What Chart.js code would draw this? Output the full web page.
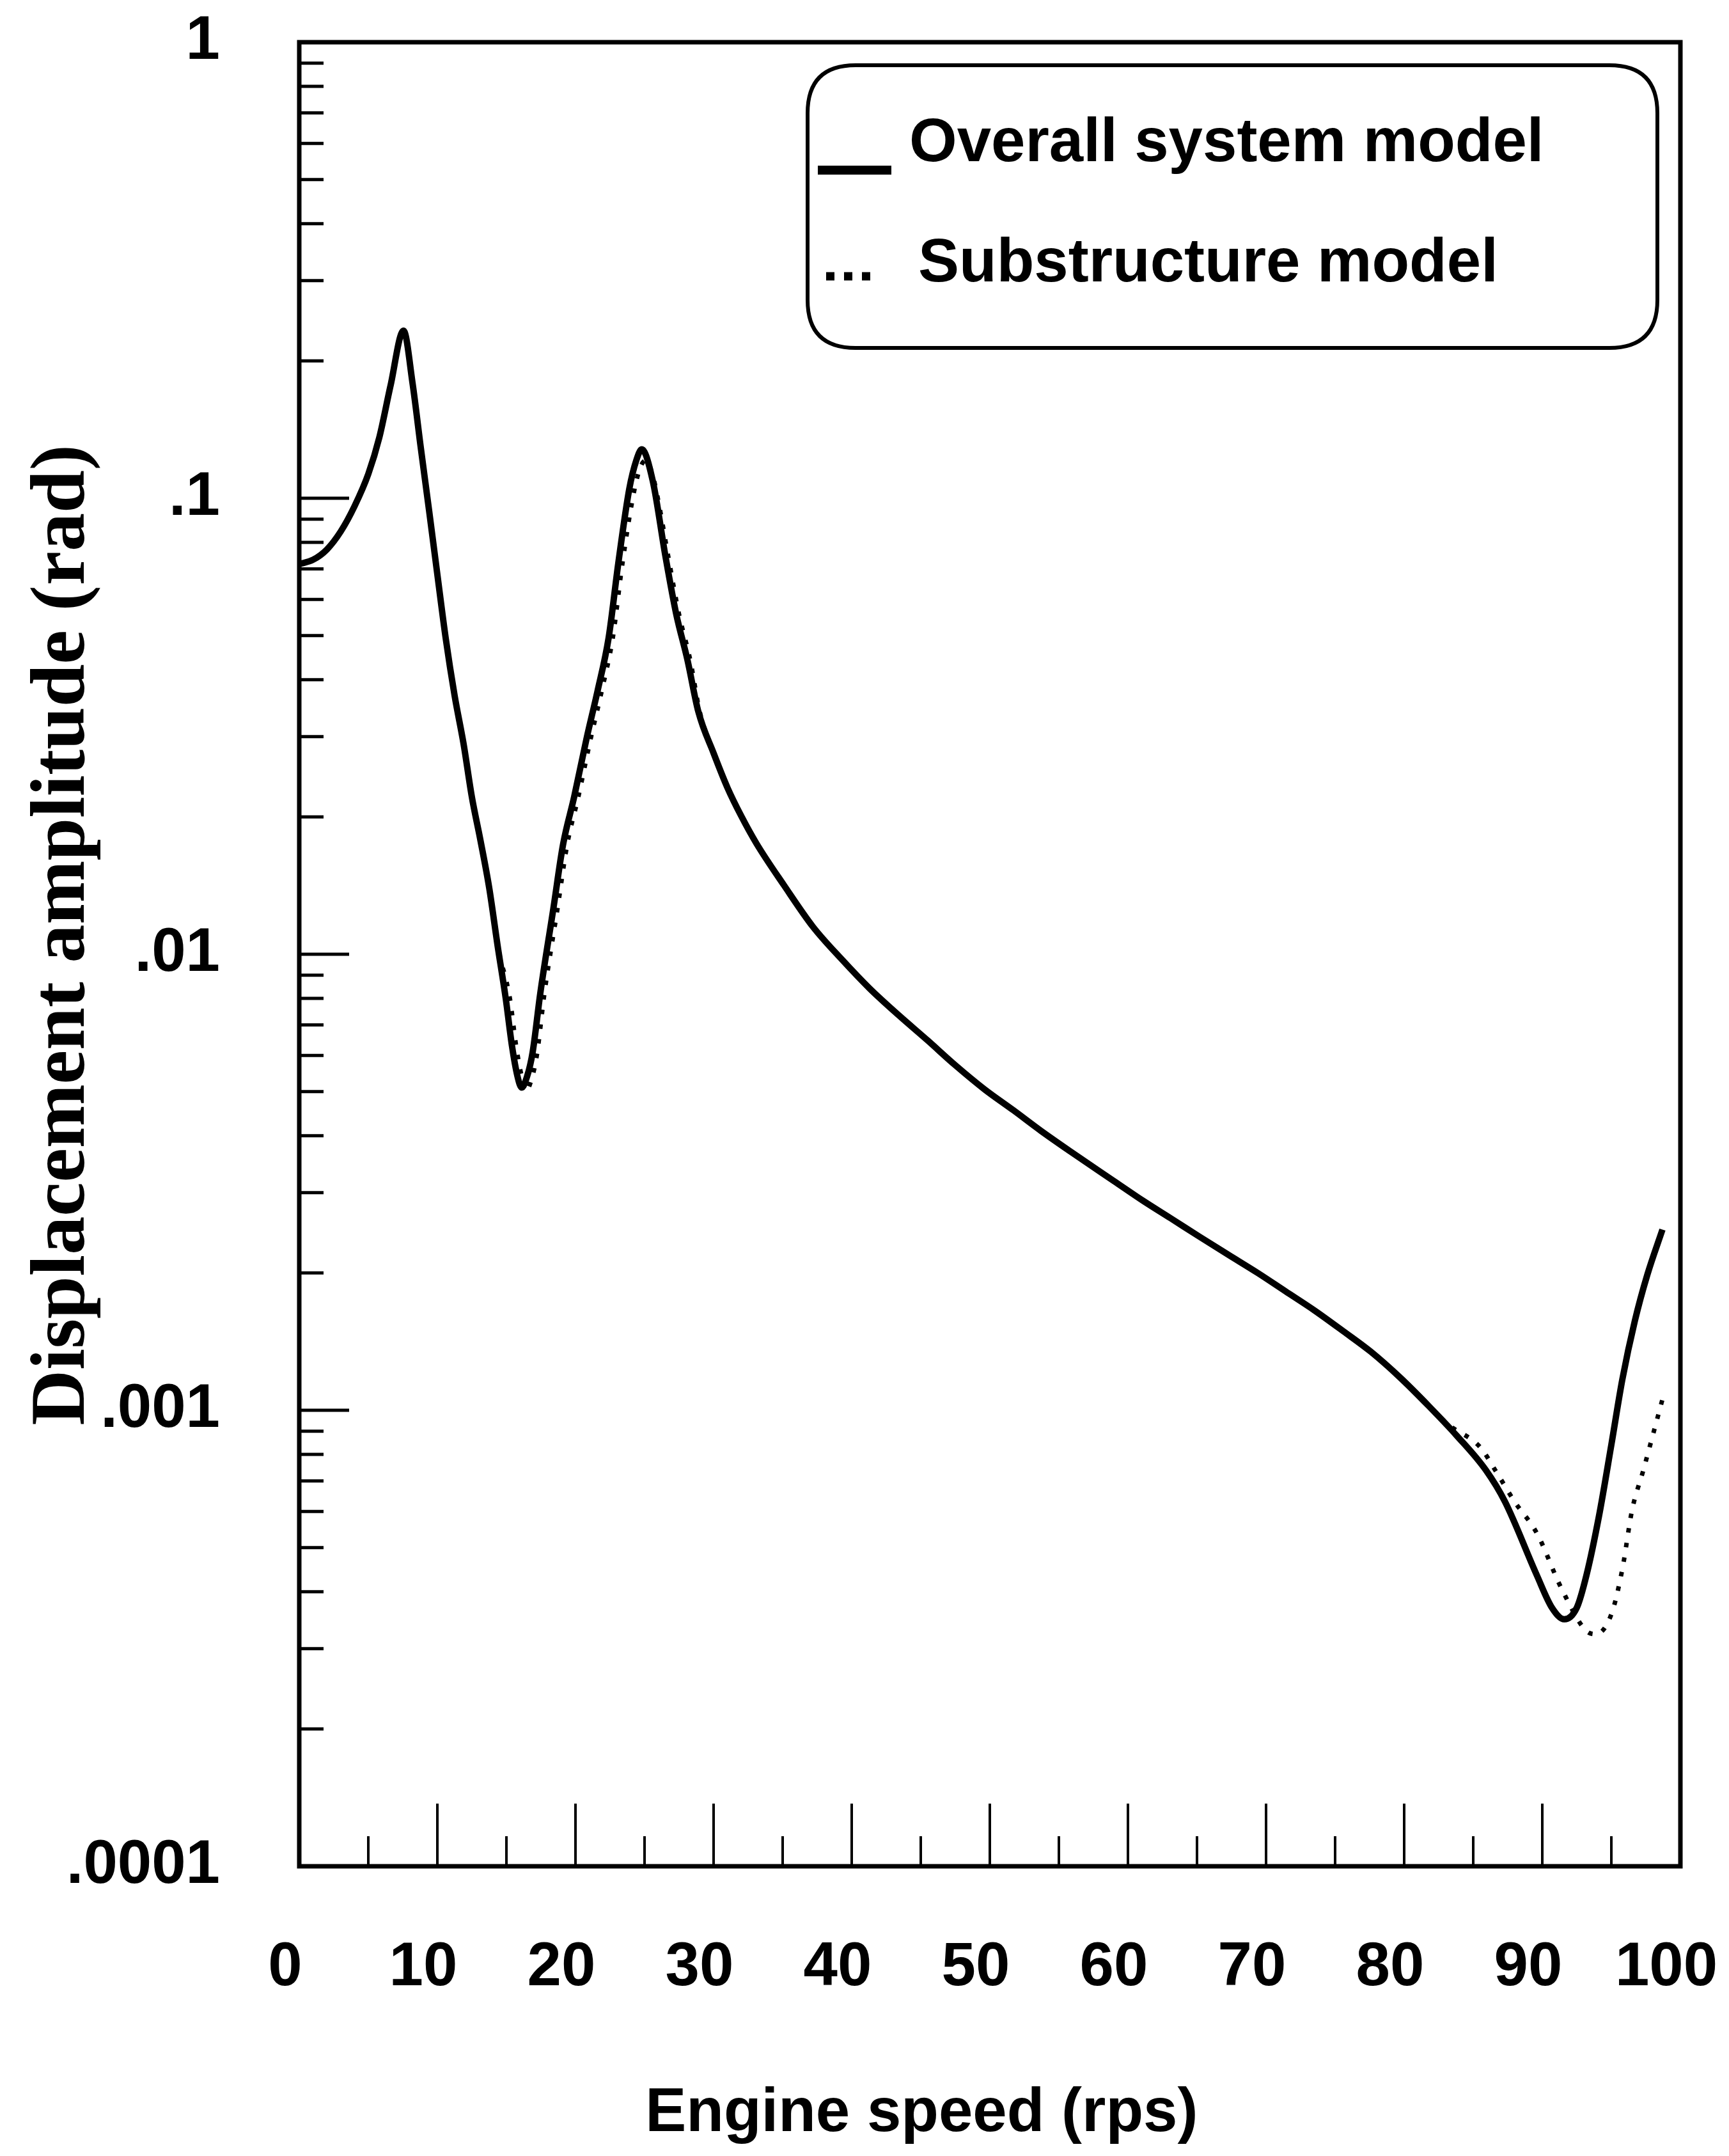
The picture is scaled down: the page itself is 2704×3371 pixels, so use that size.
<!DOCTYPE html>
<html lang="en">
<head>
<meta charset="UTF-8">
<title>Displacement amplitude vs engine speed</title>
<script src="https://cdn.jsdelivr.net/npm/chart.js"></script>
<style>
  html, body { margin: 0; padding: 0; background: #fff; }
  canvas { display: block; }
</style>
</head>
<body>
<canvas id="chart" width="2704" height="3371"></canvas>
<script>
// values (engine speed in rps, amplitude in rad)
const overallSpeed = [0, 1, 2, 3, 4, 5, 5.8, 6.6, 7.55, 8.2, 8.8, 9.4, 10.0, 10.6, 11.25, 11.9, 12.5, 13.1, 13.75, 14.35, 14.95, 15.4, 15.8, 16.1, 16.5, 16.9, 17.45, 18.4, 19.1, 19.9, 20.8, 21.6, 22.4, 23.1, 23.9, 24.4, 24.8, 25.6, 26.5, 27.3, 28.1, 28.9, 30.0, 31.0, 32.0, 33.1, 35.1, 37.2, 39.3, 41.3, 43.4, 45.5, 47.5, 49.6, 51.7, 53.7, 55.8, 59.0, 61.1, 63.1, 65.2, 67.3, 69.4, 71.4, 73.5, 75.6, 77.6, 79.7, 81.8, 83.8, 85.9, 87.3, 89.6, 90.7, 91.6, 92.5, 93.2, 94.1, 95.0, 95.8, 96.7, 97.6, 98.7];
const overallAmp = [0.0717, 0.0733, 0.0772, 0.0845, 0.096, 0.113, 0.136, 0.176, 0.233, 0.179, 0.129, 0.094, 0.068, 0.0494, 0.0369, 0.0289, 0.0221, 0.0179, 0.0140, 0.0105, 0.0080, 0.0063, 0.0054, 0.0051, 0.0054, 0.0061, 0.0082, 0.0126, 0.0174, 0.0221, 0.0297, 0.0378, 0.0494, 0.072, 0.105, 0.121, 0.128, 0.109, 0.075, 0.0556, 0.0443, 0.034, 0.0276, 0.0232, 0.0201, 0.0175, 0.01416, 0.01148, 0.00973, 0.00841, 0.00735, 0.00647, 0.00571, 0.00506, 0.00455, 0.0041, 0.0037, 0.00318, 0.00288, 0.002636, 0.0024, 0.00219, 0.002, 0.001824, 0.001656, 0.00149, 0.001343, 0.00118, 0.00102, 0.00088, 0.00074, 0.00063, 0.000435, 0.000369, 0.000348, 0.000369, 0.000435, 0.000585, 0.00084, 0.00117, 0.00157, 0.00198, 0.00249];

const subSpeed = [0, 1, 2, 3, 4, 5, 5.8, 6.6, 7.55, 8.2, 8.8, 9.4, 10.0, 10.6, 11.25, 11.9, 12.5, 13.1, 13.75, 14.35, 15.25, 15.7, 16.1, 16.4, 16.8, 17.2, 17.75, 18.7, 19.4, 20.2, 21.1, 21.9, 22.7, 23.4, 24.2, 24.7, 25.1, 25.6, 26.1, 26.7, 27.5, 28.3, 29.0, 30.0, 31.0, 32.0, 33.1, 35.1, 37.2, 39.3, 41.3, 43.4, 45.5, 47.5, 49.6, 51.7, 53.7, 55.8, 59.0, 61.1, 63.1, 65.2, 67.3, 69.4, 71.4, 73.5, 75.6, 77.6, 79.7, 81.8, 83.2, 85.5, 86.7, 88.0, 89.6, 91.4, 93.2, 93.9, 95.0, 95.8, 96.5, 97.3, 98.0, 98.7];
const subAmp = [0.0717, 0.0733, 0.0772, 0.0845, 0.096, 0.113, 0.136, 0.176, 0.233, 0.179, 0.129, 0.094, 0.068, 0.0494, 0.0369, 0.0289, 0.0221, 0.0179, 0.0140, 0.0105, 0.0080, 0.0063, 0.0054, 0.0050, 0.0053, 0.0060, 0.0082, 0.0126, 0.0174, 0.0221, 0.0297, 0.0378, 0.0494, 0.072, 0.102, 0.117, 0.121, 0.112, 0.095, 0.075, 0.0556, 0.0443, 0.034, 0.0276, 0.0232, 0.0201, 0.0175, 0.01416, 0.01148, 0.00973, 0.00841, 0.00735, 0.00647, 0.00571, 0.00506, 0.00455, 0.0041, 0.0037, 0.00318, 0.00288, 0.002636, 0.0024, 0.00219, 0.002, 0.001824, 0.001656, 0.00149, 0.001343, 0.00118, 0.00102, 0.00093, 0.00083, 0.00073, 0.00063, 0.000538, 0.000406, 0.000328, 0.000323, 0.000357, 0.000449, 0.000604, 0.000736, 0.000881, 0.001057];

const seriesLabels = ['Overall system model', 'Substructure model'];

const yTickValues = [0.0001, 0.001, 0.01, 0.1, 1];
const yTickLabels = ['.0001', '.001', '.01', '.1', '1'];
const xMajorTicks = [10, 20, 30, 40, 50, 60, 70, 80, 90];
const xMinorTicks = [5, 15, 25, 35, 45, 55, 65, 75, 85, 95];

const sansBold = { family: "'Liberation Sans', Arial, sans-serif", weight: 'bold', size: 96 };
const nb = '\u00a0';

function toPoints(xs, ys) {
    return xs.map((x, i) => ({ x: x, y: ys[i] }));
}

// inward tick marks and the closed frame round the plot
const frameAndTicks = {
    id: 'frameAndTicks',
    afterDatasetsDraw(chart) {
        const { ctx, chartArea: a, scales: { x, y } } = chart;
        ctx.save();
        ctx.strokeStyle = '#000';
        ctx.lineCap = 'butt';

        ctx.lineWidth = 5;
        for (let i = 0; i < yTickValues.length - 1; i++) {
            const dec = yTickValues[i];
            for (let k = 2; k <= 9; k++) {
                const py = y.getPixelForValue(dec * k);
                ctx.beginPath(); ctx.moveTo(a.left, py); ctx.lineTo(a.left + 38, py); ctx.stroke();
            }
        }
        yTickValues.forEach(v => {
            const py = y.getPixelForValue(v);
            ctx.beginPath(); ctx.moveTo(a.left, py); ctx.lineTo(a.left + 78, py); ctx.stroke();
        });

        ctx.lineWidth = 4;
        xMinorTicks.forEach(v => {
            const px = x.getPixelForValue(v);
            ctx.beginPath(); ctx.moveTo(px, a.bottom); ctx.lineTo(px, a.bottom - 47); ctx.stroke();
        });
        xMajorTicks.forEach(v => {
            const px = x.getPixelForValue(v);
            ctx.beginPath(); ctx.moveTo(px, a.bottom); ctx.lineTo(px, a.bottom - 98); ctx.stroke();
        });

        ctx.lineWidth = 7;
        ctx.strokeRect(a.left, a.top, a.right - a.left, a.bottom - a.top);
        ctx.restore();
    }
};

// rounded legend box in the upper right corner
const boxLegend = {
    id: 'boxLegend',
    afterDraw(chart) {
        const ctx = chart.ctx;
        const L = 1263, T = 102, R = 2592, B = 544, r = 75;
        ctx.save();
        ctx.strokeStyle = '#000';
        ctx.lineWidth = 6;
        ctx.beginPath();
        ctx.moveTo(L + r, T);
        ctx.lineTo(R - r, T);
        ctx.quadraticCurveTo(R, T, R, T + r);
        ctx.lineTo(R, B - r);
        ctx.quadraticCurveTo(R, B, R - r, B);
        ctx.lineTo(L + r, B);
        ctx.quadraticCurveTo(L, B, L, B - r);
        ctx.lineTo(L, T + r);
        ctx.quadraticCurveTo(L, T, L + r, T);
        ctx.closePath();
        ctx.stroke();

        const rows = [
            { x0: 1279, x1: 1394, sy: 266, w: 14, dash: [], tx: 1422, ty: 252 },
            { x0: 1292, x1: 1372, sy: 432, w: 13, dash: [13, 15], tx: 1436, ty: 440 }
        ];
        chart.data.datasets.forEach((ds, i) => {
            const row = rows[i];
            ctx.lineWidth = row.w;
            ctx.setLineDash(row.dash);
            ctx.strokeStyle = ds.borderColor;
            ctx.beginPath(); ctx.moveTo(row.x0, row.sy); ctx.lineTo(row.x1, row.sy); ctx.stroke();
            ctx.setLineDash([]);
            ctx.fillStyle = '#000';
            ctx.font = 'bold 96px "Liberation Sans", Arial, sans-serif';
            ctx.textBaseline = 'alphabetic';
            ctx.textAlign = 'left';
            ctx.fillText(ds.label, row.tx, row.ty);
        });
        ctx.restore();
    }
};

new Chart(document.getElementById('chart'), {
    type: 'line',
    data: {
        datasets: [
            {
                label: seriesLabels[0],
                data: toPoints(overallSpeed, overallAmp),
                borderColor: '#000',
                borderWidth: 10,
                pointRadius: 0,
                cubicInterpolationMode: 'monotone'
            },
            {
                label: seriesLabels[1],
                data: toPoints(subSpeed, subAmp),
                borderColor: '#000',
                borderWidth: 7,
                borderDash: [7, 16],
                pointRadius: 0,
                cubicInterpolationMode: 'monotone'
            }
        ]
    },
    options: {
        responsive: false,
        devicePixelRatio: 1,
        animation: false,
        layout: { padding: { top: 66, right: 76, left: 0, bottom: 0 } },
        plugins: { legend: { display: false }, tooltip: { enabled: false } },
        scales: {
            x: {
                type: 'linear',
                min: 0,
                max: 100,
                afterFit(s) {
                    s.height = 453;
                    s.paddingLeft = 0;
                    s.paddingRight = 0;
                },
                grid: { display: false, drawTicks: false },
                border: { display: false },
                ticks: {
                    stepSize: 10, autoSkip: false, maxRotation: 0,
                    padding: 102, labelOffset: -22,
                    color: '#000', font: sansBold
                },
                title: {
                    display: true,
                    text: 'Engine speed (rps)' + nb.repeat(8),
                    color: '#000',
                    font: sansBold,
                    padding: { top: 0, bottom: 8 }
                }
            },
            y: {
                type: 'logarithmic',
                min: 0.0001,
                max: 1,
                afterFit(s) {
                    s.width = 468;
                    s.paddingTop = 0;
                    s.paddingBottom = 0;
                },
                afterBuildTicks(s) { s.ticks = yTickValues.map(v => ({ value: v })); },
                grid: { display: false, drawTicks: false },
                border: { display: false },
                ticks: {
                    autoSkip: false,
                    padding: 124,
                    color: '#000',
                    font: sansBold,
                    callback: (v, i) => yTickLabels[i]
                },
                title: {
                    display: true,
                    text: nb + nb + 'Displacement amplitude (rad)',
                    color: '#000',
                    font: { family: "'Liberation Serif', 'Times New Roman', serif", weight: 'bold', size: 120 },
                    padding: { top: 28, bottom: 0 }
                }
            }
        }
    },
    plugins: [frameAndTicks, boxLegend]
});
</script>
</body>
</html>
